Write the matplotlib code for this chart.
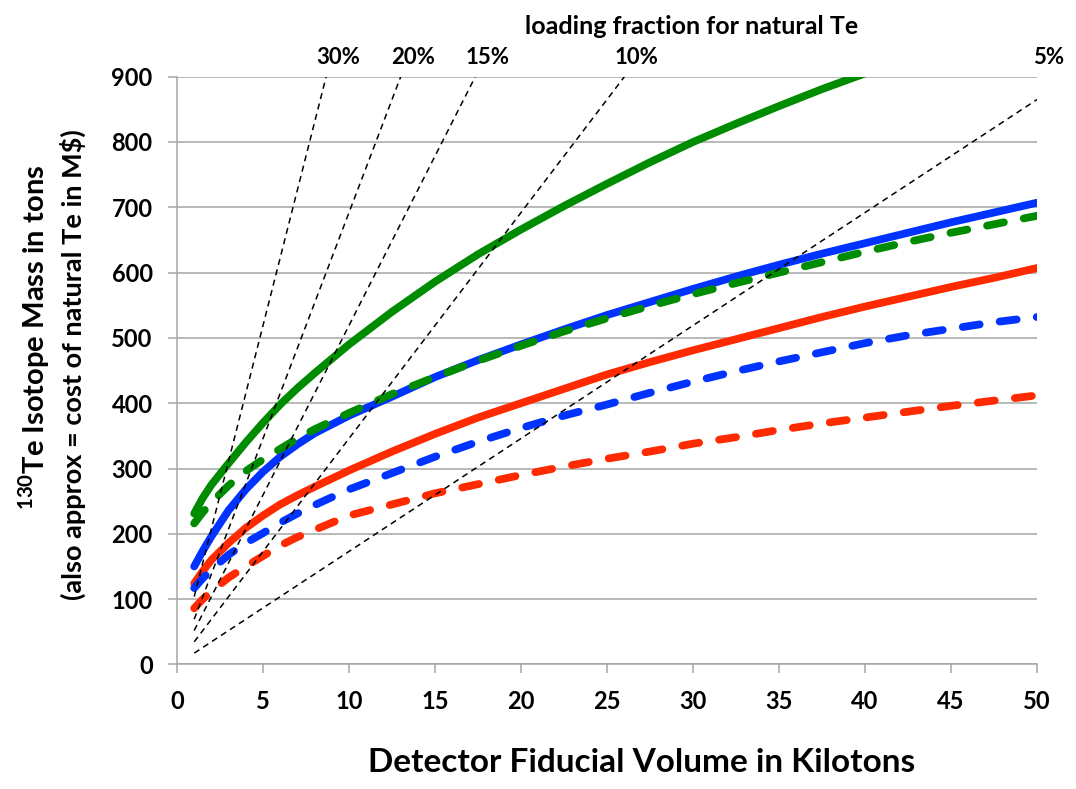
import numpy as np
import matplotlib
import matplotlib.pyplot as plt

matplotlib.use('Agg')

volume_kt = [1, 1.5, 2, 3, 4, 5, 6, 7, 8, 10, 12.5, 15, 17.5, 20, 22.5, 25,
             27.5, 30, 32.5, 35, 37.5, 40, 42.5, 45, 47.5, 50]

# 130Te isotope mass in tons for each scenario
green_solid = [231, 255, 275, 308, 340, 370, 398, 423, 446, 490, 540, 586, 628, 666, 702, 736,
               769, 800, 828, 855, 881, 905, 930, 955, 978, 1000]
green_dashed = [216, 233, 248, 274, 296, 314, 330, 346, 360, 385, 414, 440, 465, 488, 510, 530,
                549, 567, 584, 600, 616, 632, 647, 661, 674, 687]
blue_solid = [150, 174, 196, 236, 268, 295, 318, 337, 354, 381, 410, 440, 466, 490, 513, 535,
              555, 575, 594, 612, 629, 645, 661, 677, 692, 707]
blue_dashed = [117, 132, 145, 168, 186, 201, 217, 231, 244, 268, 293, 318, 341, 362, 381, 398,
               416, 433, 449, 464, 478, 492, 504, 514, 524, 532]
red_solid = [124, 143, 160, 186, 209, 228, 245, 259, 272, 297, 326, 353, 378, 400, 422, 444,
             463, 481, 498, 515, 532, 548, 563, 578, 592, 607]
red_dashed = [86, 100, 112, 133, 150, 166, 182, 195, 206, 228, 245, 262, 276, 290, 303, 315,
              326, 338, 348, 359, 369, 378, 387, 396, 404, 412]

# loading fraction reference lines (tons of 130Te per kt)
loading_labels = ['30%', '20%', '15%', '10%', '5%']
te130_per_kt = [103.8, 69.2, 51.9, 34.6, 17.3]
ref_x = [1, 50]

GREEN = '#008C00'
BLUE = '#0033FF'
RED = '#FF2A00'
FONT = 'Lato'

plt.rcParams['mathtext.fontset'] = 'custom'
plt.rcParams['mathtext.bf'] = 'Lato:bold'
plt.rcParams['mathtext.rm'] = 'Lato:bold'

fig = plt.figure(figsize=(10.76, 7.89), dpi=100)
ax = fig.add_axes([0.1645, 0.1579, 0.7993, 0.7449])

solid_kw = dict(lw=5.6, solid_capstyle='round', solid_joinstyle='round')
dash_kw = dict(lw=5.6, dashes=(2.2, 2.6), dash_capstyle='round', solid_joinstyle='round')

ax.plot(volume_kt, blue_solid, color=BLUE, **solid_kw, zorder=3)
ax.plot(volume_kt, green_solid, color=GREEN, **solid_kw, zorder=3)
ax.plot(volume_kt, red_solid, color=RED, **solid_kw, zorder=3)
ax.plot(volume_kt, blue_dashed, color=BLUE, **dash_kw, zorder=4)
ax.plot(volume_kt, red_dashed, color=RED, **dash_kw, zorder=4)
ax.plot(volume_kt, green_dashed, color=GREEN, **dash_kw, zorder=4)

for label, slope in zip(loading_labels, te130_per_kt):
    ys = [slope * v for v in ref_x]
    ax.plot(ref_x, ys, color='black', lw=1.1, dashes=(4, 3), zorder=5)
    x_top = min(900.0 / slope, 50.0)
    ax.text(x_top + 0.7, 919, label, ha='center', va='baseline',
            fontsize=16, fontweight='bold', family=FONT, clip_on=False)

ax.text(29.9, 965, 'loading fraction for natural Te', ha='center', va='baseline',
        fontsize=18, fontweight='bold', family=FONT, clip_on=False)

ax.set_xlim(0, 50)
ax.set_ylim(0, 900)
ax.set_xticks(np.arange(0, 51, 5))
ax.set_yticks(np.arange(0, 901, 100))
ax.yaxis.grid(True, color='#A6A6A6', lw=1.1)
ax.set_axisbelow(True)

for side in ['top', 'right']:
    ax.spines[side].set_visible(False)
for side in ['left', 'bottom']:
    ax.spines[side].set_color('#A6A6A6')
    ax.spines[side].set_linewidth(1.1)

ax.tick_params(axis='both', colors='#A6A6A6', width=1.1, length=6.5, labelcolor='black')
ax.tick_params(axis='x', pad=12)
ax.tick_params(axis='y', pad=11)
for lab in ax.get_xticklabels() + ax.get_yticklabels():
    lab.set_family(FONT)
    lab.set_fontweight('bold')
    lab.set_fontsize(17)

fig.text(0.596, 0.022, 'Detector Fiducial Volume in Kilotons', ha='center', va='baseline',
         fontsize=24, fontweight='bold', family=FONT)
fig.text(0.032, 1 - 337 / 789, r'$^{\mathbf{130}}$Te Isotope Mass in tons', rotation=90,
         ha='center', va='center', fontsize=21, fontweight='bold', family=FONT)
fig.text(0.068, 1 - 365 / 789, '(also approx = cost of natural Te in M$)', rotation=90,
         ha='center', va='center', fontsize=19.5, fontweight='bold', family=FONT)

fig.savefig('out.png', dpi=100)
